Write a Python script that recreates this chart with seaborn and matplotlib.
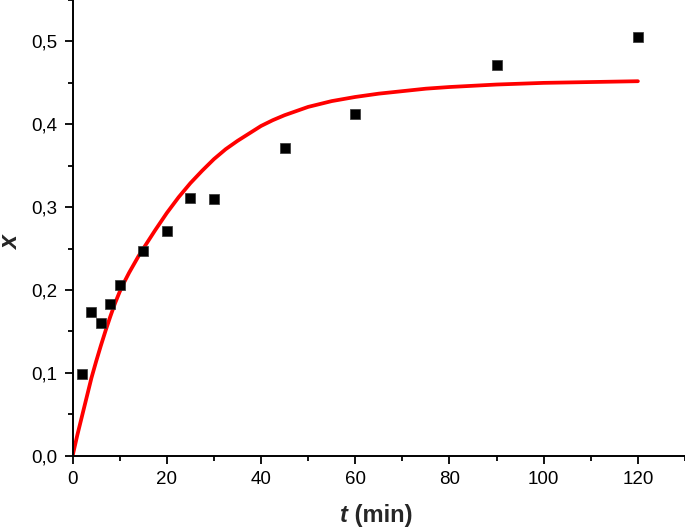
import matplotlib
matplotlib.use("Agg")
import matplotlib.pyplot as plt
import seaborn as sns
import pandas as pd
from matplotlib.ticker import MultipleLocator, FuncFormatter

# Experimental data
t_exp = [2, 4, 6, 8, 10, 15, 20, 25, 30, 45, 60, 90, 120]
x_exp = [0.099, 0.173, 0.160, 0.183, 0.206, 0.247, 0.271, 0.311, 0.310, 0.371, 0.413, 0.471, 0.505]

# Fitted curve, values
t_fit = [0, 1, 2, 3, 4, 5, 6, 7, 8, 9, 10, 11, 12, 13, 14, 15, 17.5, 20, 22.5, 25, 27.5, 30,
         32.5, 35, 37.5, 40, 42.5, 45, 47.5, 50, 55, 60, 65, 70, 75, 80, 90, 100, 110, 120]
x_fit = [0.0, 0.025, 0.048, 0.071, 0.094, 0.114, 0.133, 0.151, 0.168, 0.184, 0.198, 0.210,
         0.221, 0.231, 0.241, 0.250, 0.272, 0.293, 0.312, 0.329, 0.344, 0.358, 0.370, 0.380,
         0.389, 0.398, 0.405, 0.411, 0.416, 0.421, 0.428, 0.433, 0.437, 0.440, 0.443, 0.445,
         0.448, 0.450, 0.451, 0.452]

sns.set_theme(style="ticks")
plt.rcParams['font.family'] = ['Liberation Sans', 'DejaVu Sans']

fig = plt.figure(figsize=(6.85, 5.3), dpi=100)
ax = fig.add_axes([0.106, 0.140, 0.894, 0.860])

df_fit = pd.DataFrame({"t": t_fit, "x": x_fit})
df_exp = pd.DataFrame({"t": t_exp, "x": x_exp})

sns.lineplot(data=df_fit, x="t", y="x", color="#ff0000", linewidth=2.7, ax=ax, zorder=2,
             solid_joinstyle="round", solid_capstyle="round")
sns.scatterplot(data=df_exp, x="t", y="x", marker="s", color="black", s=55,
                edgecolor="#333333", linewidth=0.5, ax=ax, zorder=3)

ax.set_xlim(0, 130)
ax.set_ylim(0, 0.55)
ax.xaxis.set_major_locator(MultipleLocator(20))
ax.xaxis.set_minor_locator(MultipleLocator(10))
ax.yaxis.set_major_locator(MultipleLocator(0.1))
ax.yaxis.set_minor_locator(MultipleLocator(0.05))
ax.yaxis.set_major_formatter(FuncFormatter(lambda v, p: f"{v:.1f}".replace(".", ",")))
ax.xaxis.set_major_formatter(FuncFormatter(lambda v, p: f"{v:.0f}"))

ax.tick_params(which="major", direction="out", length=6, width=1.3, labelsize=13.5, colors="black", pad=5)
ax.tick_params(which="minor", direction="out", length=3.5, width=1.3, colors="black")

for s in ["top", "right"]:
    ax.spines[s].set_visible(False)
for s in ["left", "bottom"]:
    ax.spines[s].set_linewidth(1.4)
    ax.spines[s].set_color("black")

ax.set_xlabel("")
ax.set_ylabel("")
fig.text(0.508, 0.028, "t", fontsize=17, fontweight="bold", style="italic", ha="right", va="center")
fig.text(0.508, 0.028, " (min)", fontsize=17, fontweight="bold", ha="left", va="center")
fig.text(0.016, 0.541, "x", fontsize=18, fontweight="bold", style="italic", rotation=90,
         ha="center", va="center")

fig.savefig("out.png", dpi=100)
